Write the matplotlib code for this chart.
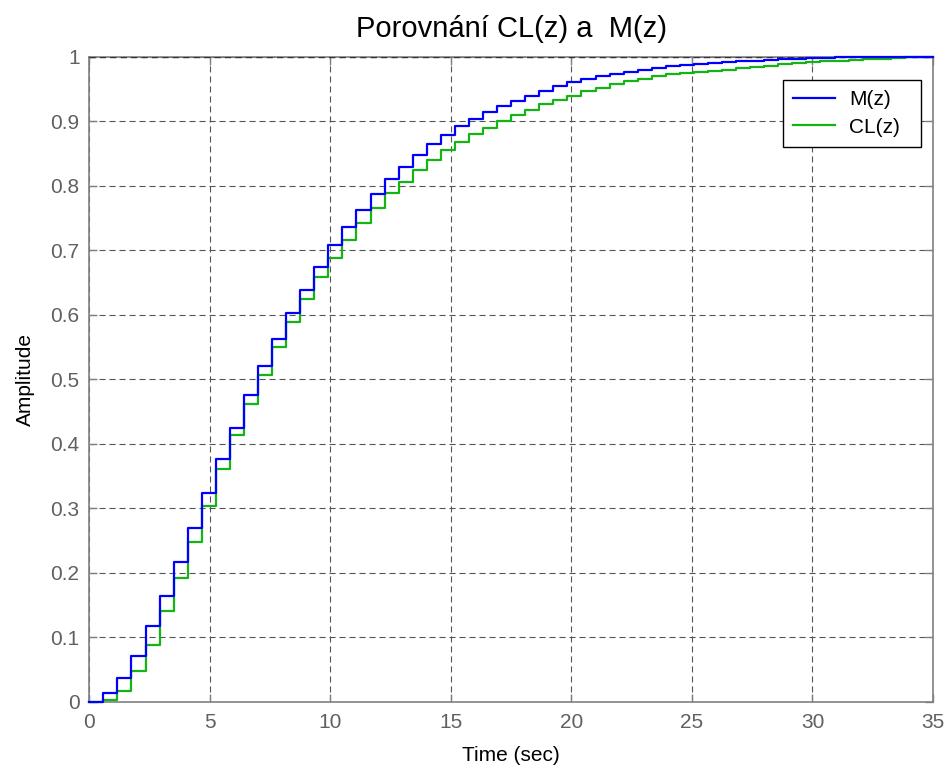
import matplotlib
matplotlib.use("Agg")
import matplotlib.pyplot as plt
import numpy as np

plt.rcParams['font.family'] = ['Liberation Sans', 'DejaVu Sans']

# sample time (60 samples over 35 s)
ts = 35.0 / 60

# step response M(z), values held from k*ts to (k+1)*ts, k = 0..60
m_z = [0.000, 0.013, 0.037, 0.071, 0.118, 0.164, 0.217, 0.270, 0.323, 0.376,
       0.425, 0.475, 0.521, 0.562, 0.602, 0.639, 0.674, 0.708, 0.736, 0.763,
       0.787, 0.810, 0.829, 0.848, 0.864, 0.879, 0.893, 0.904, 0.914, 0.923,
       0.932, 0.939, 0.947, 0.954, 0.960, 0.965, 0.970, 0.973, 0.977, 0.980,
       0.983, 0.986, 0.987, 0.989, 0.990, 0.991, 0.993, 0.994, 0.995, 0.996,
       0.997, 0.998, 0.998, 0.999, 0.999, 1.000, 1.000, 1.000, 1.000, 1.000,
       1.000]

# step response CL(z)
cl_z = [0.000, 0.002, 0.016, 0.047, 0.088, 0.141, 0.192, 0.248, 0.304, 0.360,
        0.413, 0.461, 0.506, 0.550, 0.588, 0.624, 0.659, 0.688, 0.716, 0.742,
        0.765, 0.788, 0.805, 0.824, 0.840, 0.855, 0.868, 0.880, 0.889, 0.901,
        0.910, 0.918, 0.926, 0.933, 0.939, 0.946, 0.952, 0.958, 0.963, 0.966,
        0.970, 0.973, 0.975, 0.977, 0.978, 0.980, 0.983, 0.984, 0.986, 0.988,
        0.990, 0.991, 0.993, 0.994, 0.995, 0.996, 0.997, 0.998, 0.999, 1.000,
        1.000]

x_ticks = [0, 5, 10, 15, 20, 25, 30, 35]
y_ticks = [0, 0.1, 0.2, 0.3, 0.4, 0.5, 0.6, 0.7, 0.8, 0.9, 1]
y_tick_labels = ["0", "0.1", "0.2", "0.3", "0.4", "0.5", "0.6", "0.7", "0.8", "0.9", "1"]

t = np.arange(len(m_z)) * ts

fig = plt.figure(figsize=(9.47, 7.71), dpi=100)
ax = fig.add_axes([0.0943, 0.0899, 0.8909, 0.8366])

ax.plot(t, m_z, drawstyle="steps-post", color="#0000ff", lw=1.6, label="M(z)", clip_on=False, zorder=4)
ax.plot(t, cl_z, drawstyle="steps-post", color="#14b414", lw=1.6, label="CL(z)", clip_on=False, zorder=3)

ax.set_xlim(0, 35)
ax.set_ylim(0, 1)
ax.set_xticks(x_ticks)
ax.set_yticks(y_ticks)
ax.set_yticklabels(y_tick_labels)

ax.grid(True, color="#555555", lw=0.8, linestyle=(0, (5.5, 3.5)))
# dashed line along the top edge, as in the original
ax.axhline(1, color="#333333", lw=1.0, linestyle=(0, (4.5, 3)), zorder=2.6)
for s in ax.spines.values():
    s.set_color("#808080")
    s.set_linewidth(1.2)
ax.tick_params(direction="in", length=6, width=1, color="#808080",
               top=True, right=True, labelsize=15, labelcolor="#606060")
ax.tick_params(axis="x", pad=8)
ax.tick_params(axis="y", pad=7)

ax.set_title("Porovnání CL(z) a  M(z)", fontsize=21, pad=14)
ax.set_xlabel("Time (sec)", fontsize=15, labelpad=10)
ax.set_ylabel("Amplitude", fontsize=15, labelpad=11)

leg = ax.legend(loc="upper left", bbox_to_anchor=(0.8219, 0.8642, 0.1636, 0.0997),
                mode="expand", borderaxespad=0,
                fontsize=15, fancybox=False, framealpha=1, edgecolor="black",
                handlelength=2.0, handletextpad=0.7, borderpad=0.5, labelspacing=0.4)
leg.get_frame().set_linewidth(1.0)
leg.set_zorder(5)

fig.savefig("out.png", dpi=100)
